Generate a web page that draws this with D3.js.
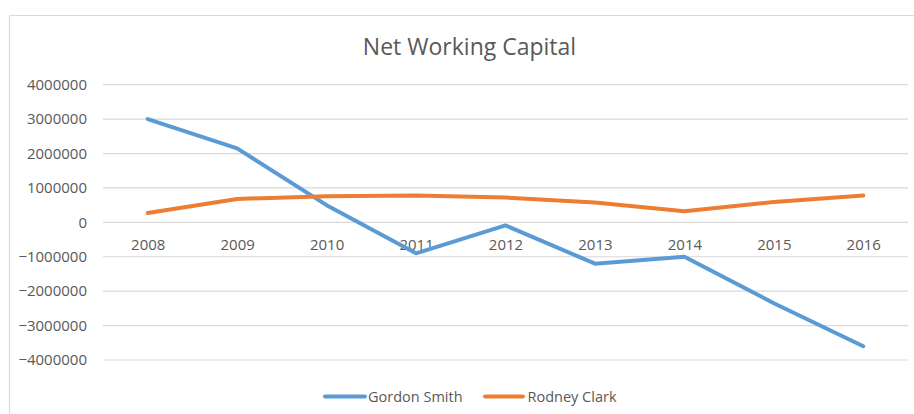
<!DOCTYPE html>
<html>
<head>
<meta charset="utf-8">
<script src="https://cdn.jsdelivr.net/npm/d3@7"></script>
<style>
  html, body { margin: 0; padding: 0; background: #ffffff; }
  svg { display: block; }
  text { font-family: "Open Sans", sans-serif; fill: #595959; }
</style>
</head>
<body>
<svg id="chart" width="914" height="414"></svg>
<script>
const years = ["2008","2009","2010","2011","2012","2013","2014","2015","2016"];
const gordonSmith = [3000000, 2150000, 500000, -900000, -90000, -1200000, -1000000, -2350000, -3600000];
const rodneyClark = [270000, 680000, 760000, 780000, 720000, 580000, 320000, 590000, 780000];
const yTicks = [-4000000, -3000000, -2000000, -1000000, 0, 1000000, 2000000, 3000000, 4000000];
const seriesNames = ["Gordon Smith", "Rodney Clark"];
const colors = ["#5B9BD5", "#ED7D31"];

const svg = d3.select("#chart");
const plotLeft = 103, plotRight = 908, plotTop = 84.7, plotBottom = 360;

// chart border (cropped on right/bottom)
svg.append("line").attr("x1", 9.5).attr("x2", 914).attr("y1", 15.5).attr("y2", 15.5)
  .attr("stroke", "#D9D9D9").attr("stroke-width", 1.2);
svg.append("line").attr("x1", 9.5).attr("x2", 9.5).attr("y1", 15.5).attr("y2", 414)
  .attr("stroke", "#D9D9D9").attr("stroke-width", 1.2);

const x = d3.scalePoint().domain(years).range([plotLeft, plotRight]).padding(0.5);
const y = d3.scaleLinear().domain([-4000000, 4000000]).range([plotBottom, plotTop]);

// gridlines
svg.append("g").selectAll("line").data(yTicks).join("line")
  .attr("x1", plotLeft).attr("x2", plotRight)
  .attr("y1", d => y(d)).attr("y2", d => y(d))
  .attr("stroke", "#D9D9D9").attr("stroke-width", 1.2);

// y axis labels
const yAxis = svg.append("g").attr("transform", `translate(${plotLeft},0)`)
  .call(d3.axisLeft(y).tickValues(yTicks).tickSize(0).tickPadding(16).tickFormat(d3.format("d")));
yAxis.select(".domain").remove();
yAxis.selectAll("text").style("font-family", "'Open Sans', sans-serif").style("font-size", "15px").attr("fill", "#595959");

// x axis labels at zero line
const xAxis = svg.append("g").attr("transform", `translate(0,${y(0)})`)
  .call(d3.axisBottom(x).tickSize(0).tickPadding(17));
xAxis.select(".domain").remove();
xAxis.selectAll("text").style("font-family", "'Open Sans', sans-serif").style("font-size", "15px").attr("fill", "#595959");

// title
svg.append("text").attr("x", 469.5).attr("y", 55).attr("text-anchor", "middle")
  .style("font-size", "23px").text("Net Working Capital");

// lines
const line = d3.line().x((d, i) => x(years[i])).y(d => y(d));
[gordonSmith, rodneyClark].forEach((s, k) => {
  svg.append("path").datum(s).attr("d", line)
    .attr("fill", "none").attr("stroke", colors[k]).attr("stroke-width", 4)
    .attr("stroke-linecap", "round").attr("stroke-linejoin", "round");
});

// legend
const legendItems = [
  { x1: 325, x2: 365, tx: 368 },
  { x1: 485, x2: 523, tx: 527.5 }
];
legendItems.forEach((it, k) => {
  svg.append("line").attr("x1", it.x1).attr("x2", it.x2).attr("y1", 396.5).attr("y2", 396.5)
    .attr("stroke", colors[k]).attr("stroke-width", 4).attr("stroke-linecap", "round");
  svg.append("text").attr("x", it.tx).attr("y", 401.5).style("font-size", "14.5px").text(seriesNames[k]);
});
</script>
</body>
</html>
